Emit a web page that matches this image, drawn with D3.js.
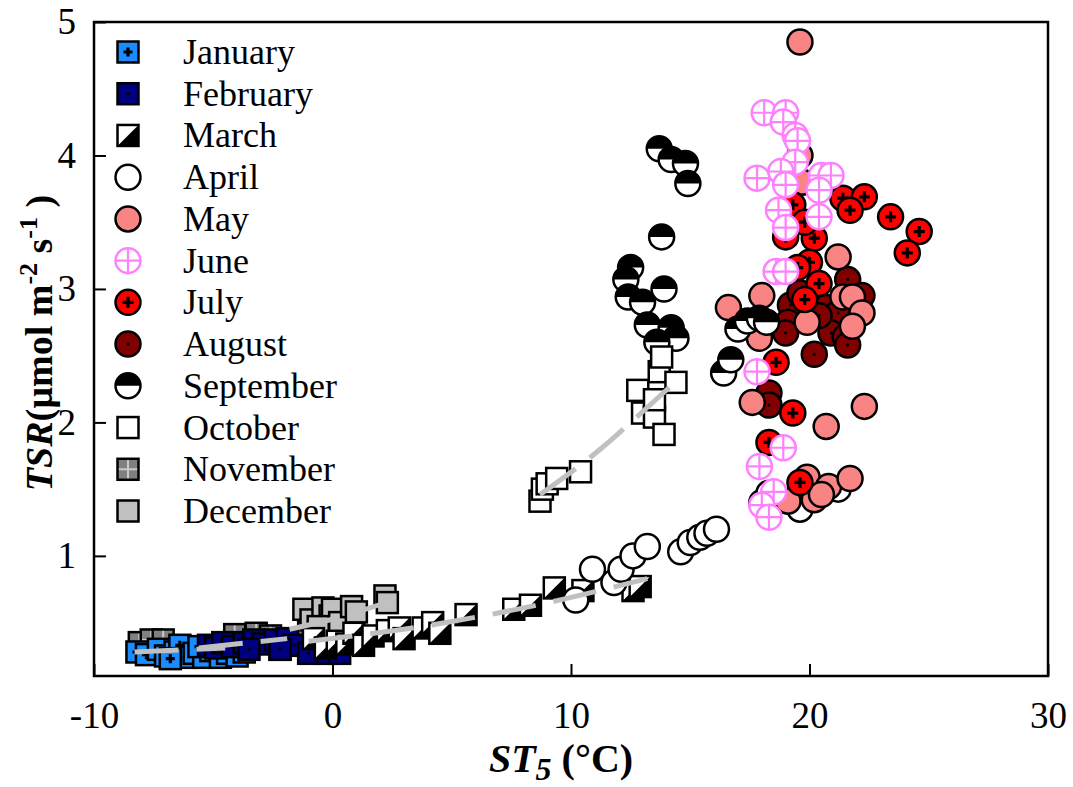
<!DOCTYPE html>
<html>
<head>
<meta charset="utf-8">
<script src="https://cdn.jsdelivr.net/npm/d3@7"></script>
<style>
  body { margin: 0; background: #fff; }
  text { font-family: "Liberation Serif", "Times New Roman", serif; }
</style>
</head>
<body>
<svg id="chart" width="1073" height="787"></svg>
<script>
// [ST5, TSR] pairs, one array per month
var january = [[-8.2,0.28],[-7.8,0.26],[-7.3,0.3],[-7.0,0.25],[-6.6,0.28],[-6.4,0.33],[-6.1,0.24],[-5.8,0.27],
    [-5.4,0.24],[-5.1,0.29],[-4.7,0.24],[-4.4,0.27],[-4.0,0.25],[-3.7,0.28],[-6.8,0.23],[-5.6,0.32]];
var february = [[-5.2,0.33],[-4.9,0.31],[-4.6,0.35],[-4.2,0.32],[-3.7,0.35],[-3.3,0.37],[-2.9,0.34],
    [-2.4,0.37],[-1.9,0.38],[-1.6,0.33],[-2.2,0.3],[-1.0,0.27],[-0.2,0.27],[0.3,0.27],[-3.5,0.3]];
var march = [[-0.8,0.38],[-0.3,0.31],[0.2,0.36],[0.6,0.34],[0.9,0.42],[1.3,0.33],[1.7,0.4],[2.3,0.44],[2.8,0.46],
    [3.0,0.38],[3.8,0.46],[4.2,0.5],[4.5,0.42],[5.6,0.56],[7.6,0.6],[8.3,0.63],[9.3,0.76],[10.5,0.74],[12.6,0.74],[12.9,0.77]];
var april = [[10.2,0.67],[10.9,0.9],[11.8,0.8],[12.1,0.9],[12.6,1.0],[13.2,1.07],[14.6,1.03],[15.0,1.1],[15.4,1.14],
    [15.7,1.17],[16.1,1.2],[18.0,1.4],[18.3,1.47],[19.6,1.35],[20.2,1.45],[21.2,1.5]];
var may = [[19.6,4.85],[19.6,4.0],[19.7,3.8],[21.2,3.24],[16.6,2.86],[18.0,2.95],[17.9,2.63],[19.9,2.75],[21.4,2.94],
    [21.8,2.94],[22.2,2.82],[21.8,2.72],[17.6,2.15],[20.7,1.97],[22.3,2.12],[19.9,1.59],[20.8,1.52],[21.7,1.58],
    [20.2,1.42],[19.1,1.41],[20.5,1.46]];
var june = [[18.1,4.32],[19.0,4.32],[18.9,4.25],[19.4,4.15],[19.5,4.11],[19.4,3.95],[17.8,3.83],[18.8,3.88],[19.0,3.78],
    [20.5,3.85],[20.9,3.85],[20.4,3.74],[18.7,3.59],[19.0,3.46],[20.4,3.54],[18.6,3.13],[19.0,3.13],[17.8,2.38],
    [18.9,1.81],[17.9,1.67],[18.5,1.48],[18.0,1.38],[18.3,1.29]];
var july = [[19.3,3.63],[21.4,3.68],[22.3,3.69],[21.7,3.59],[23.4,3.54],[24.6,3.43],[24.1,3.27],[20.2,3.38],[19.0,3.39],
    [19.8,3.5],[20.0,3.2],[19.5,3.16],[20.4,3.04],[19.8,2.92],[18.6,2.45],[19.3,2.07],[18.3,1.85],[19.6,1.55]];
var august = [[19.2,2.88],[19.1,2.75],[19.0,2.67],[20.7,2.86],[21.2,2.82],[20.9,2.67],[21.5,2.64],[21.6,2.58],
    [21.6,3.07],[22.2,2.95],[20.2,2.51],[18.3,2.22],[18.3,2.13],[19.6,2.97],[20.4,2.8]];
var september = [[13.7,4.05],[14.2,3.97],[14.8,3.94],[14.9,3.79],[13.8,3.39],[12.5,3.16],[12.3,3.07],[13.9,3.0],
    [12.4,2.94],[13.0,2.9],[13.2,2.73],[14.2,2.71],[14.4,2.63],[13.6,2.6],[16.4,2.37],[16.7,2.47],[17.0,2.7],
    [17.4,2.76],[17.9,2.78],[18.2,2.75]];
var october = [[8.7,1.41],[8.8,1.5],[9.0,1.54],[9.4,1.58],[10.4,1.63],[12.8,2.24],[13.0,2.07],[13.5,2.04],[13.5,2.17],
    [13.7,2.38],[13.8,2.49],[14.4,2.3],[13.9,1.91]];
var november = [[-8.1,0.35],[-7.6,0.37],[-7.1,0.37],[-4.1,0.41],[-3.2,0.42],[-2.6,0.4],[-2.2,0.3],[-1.0,0.44],[-0.6,0.5]];
var december = [[-1.2,0.6],[-0.9,0.52],[-0.4,0.61],[-0.1,0.55],[0.0,0.6],[0.3,0.5],[0.8,0.62],[1.0,0.58],[2.2,0.7],
    [2.3,0.65],[-0.6,0.47]];

// fitted curves
var janFit = [[-8.3,0.28],[-4.5,0.31]];
var febFit = [[-5.6,0.31],[-1.9,0.38]];
var decFit = [[-1.8,0.45],[0.5,0.55],[2.4,0.66]];
var marFit = [[-1.0,0.36],[4.4,0.49],[8.8,0.64],[13.2,0.83]];
var octFit = [[8.7,1.46],[11.3,1.81],[13.0,2.08],[14.6,2.34]];

var monthNames = ["January","February","March","April","May","June","July","August","September","October","November","December"];
var xTicks = [-10, 0, 10, 20, 30];
var yTicks = [1, 2, 3, 4, 5];

var monthData = {
    January: january, February: february, March: march, April: april, May: may, June: june,
    July: july, August: august, September: september, October: october, November: november, December: december
};
var fits = [janFit, febFit, decFit, marFit, octFit];

// marker look per month
var markerStyle = {
    January:   {shape: "square", fill: "#1a8cff", inner: "plus"},
    February:  {shape: "square", fill: "#00007f", inner: "dot"},
    March:     {shape: "square", fill: "#fff", inner: "half"},
    April:     {shape: "circle", fill: "#fff"},
    May:       {shape: "circle", fill: "#f88484"},
    June:      {shape: "circle", fill: "#fff", stroke: "#ff80ff", inner: "cross"},
    July:      {shape: "circle", fill: "#ff0000", inner: "plus"},
    August:    {shape: "circle", fill: "#800000", inner: "dot"},
    September: {shape: "circle", fill: "#fff", inner: "top"},
    October:   {shape: "square", fill: "#fff"},
    November:  {shape: "square", fill: "#808080", inner: "grid"},
    December:  {shape: "square", fill: "#c0c0c0"}
};
var drawOrder = ["November","December","January","February","March","April","August","May","July","June","September","October"];

var margin = {top: 22, right: 25, bottom: 111, left: 94};
var width = 1073 - margin.left - margin.right;
var height = 787 - margin.top - margin.bottom;

var scaleX = d3.scaleLinear().domain([-10, 30]).range([0, width]);
var scaleY = d3.scaleLinear().domain([0.1, 5]).range([height, 0]);

var svg = d3.select("#chart");
var chart = svg.append("g")
    .attr("transform", "translate(" + margin.left + "," + margin.top + ")");

var S = 21, R = 12.5;

function addMarker(g, st) {
    var stroke = st.stroke || "#000";
    if (st.shape == "square") {
        g.append("rect").attr("x", -S/2).attr("y", -S/2).attr("width", S).attr("height", S)
            .attr("fill", st.fill);
        if (st.inner == "half") {
            g.append("path").attr("d", "M" + (S/2) + "," + (-S/2) + "L" + (S/2) + "," + (S/2) + "L" + (-S/2) + "," + (S/2) + "Z")
                .attr("fill", "#000");
        }
        if (st.inner == "grid") {
            g.append("path").attr("d", "M0," + (-S/2) + "V" + (S/2) + "M" + (-S/2) + ",0H" + (S/2))
                .attr("stroke", "#c8c8c8").attr("stroke-width", 2);
        }
        g.append("rect").attr("x", -S/2).attr("y", -S/2).attr("width", S).attr("height", S)
            .attr("fill", "none").attr("stroke", stroke).attr("stroke-width", 2.5);
    } else {
        g.append("circle").attr("r", R).attr("fill", st.fill);
        if (st.inner == "top") {
            g.append("path").attr("d", "M" + (-R) + ",0A" + R + "," + R + " 0 0 1 " + R + ",0Z").attr("fill", "#000");
        }
        if (st.inner == "cross") {
            g.append("path").attr("d", "M0," + (-R) + "V" + R + "M" + (-R) + ",0H" + R)
                .attr("stroke", stroke).attr("stroke-width", 2.2);
        }
        g.append("circle").attr("r", R).attr("fill", "none").attr("stroke", stroke).attr("stroke-width", 2.5);
    }
    if (st.inner == "plus") {
        var a = st.shape == "square" ? 4.5 : 5.5;
        g.append("path").attr("d", "M0," + (-a) + "V" + a + "M" + (-a) + ",0H" + a)
            .attr("stroke", "#000").attr("stroke-width", 3.2);
    }
    if (st.inner == "dot") {
        g.append("circle").attr("r", 1.6).attr("fill", "#000");
    }
}

// points
drawOrder.forEach(function(m) {
    chart.append("g").attr("class", "month")
        .selectAll("g")
        .data(monthData[m])
        .enter()
        .append("g")
            .attr("transform", function(d) { return "translate(" + scaleX(d[0]) + "," + scaleY(d[1]) + ")" })
            .each(function() { addMarker(d3.select(this), markerStyle[m]) });
});

// grey dashed fit lines
var line = d3.line()
    .x(function(d) { return scaleX(d[0]) })
    .y(function(d) { return scaleY(d[1]) })
    .curve(d3.curveMonotoneX);

chart.selectAll(".fit")
    .data(fits)
    .enter()
    .append("path")
        .attr("class", "fit")
        .attr("d", line)
        .attr("fill", "none")
        .attr("stroke", "#c0c0c0")
        .attr("stroke-width", 5)
        .attr("stroke-dasharray", "44,18");

// axes, ticks pointing inward; plain hyphen for negatives
var xAxis = d3.axisBottom(scaleX).tickValues(xTicks).tickSize(-12).tickPadding(26).tickFormat(function(d) { return String(d) });
var yAxis = d3.axisLeft(scaleY).tickValues(yTicks).tickSize(-12).tickPadding(18).tickFormat(function(d) { return String(d) });

chart.append("g")
    .attr("class", "x axis")
    .attr("transform", "translate(0," + height + ")")
    .call(xAxis);
chart.append("g")
    .attr("class", "y axis")
    .call(yAxis);

chart.selectAll(".axis .domain").remove();
chart.selectAll(".axis line").attr("stroke", "#000").attr("stroke-width", 2);
chart.selectAll(".axis text")
    .attr("fill", "#000")
    .style("font-family", "Liberation Serif")
    .style("font-size", "37px");

// frame
chart.append("rect")
    .attr("width", width)
    .attr("height", height)
    .attr("fill", "none")
    .attr("stroke", "#000")
    .attr("stroke-width", 2.5);

// axis titles
var xt = svg.append("text")
    .attr("x", margin.left + width / 2 - 10)
    .attr("y", 772)
    .attr("text-anchor", "middle")
    .style("font-size", "40px")
    .style("font-weight", "bold");
xt.append("tspan").style("font-style", "italic").text("ST");
xt.append("tspan").style("font-style", "italic").style("font-size", "32px").attr("dy", 8).text("5");
xt.append("tspan").attr("dy", -8).text(" (\u00b0C)");

var yt = svg.append("text")
    .attr("transform", "translate(52," + (margin.top + height / 2 - 6) + ") rotate(-90)")
    .attr("text-anchor", "middle")
    .style("font-size", "38px")
    .style("font-weight", "bold");
yt.append("tspan").style("font-style", "italic").text("TSR");
yt.append("tspan").text("(\u00b5mol m");
yt.append("tspan").style("font-size", "26px").attr("dy", -15).text("-2");
yt.append("tspan").attr("dy", 15).text(" s");
yt.append("tspan").style("font-size", "26px").attr("dy", -15).text("-1");
yt.append("tspan").attr("dy", 15).text(" )");

// legend
var legendY = d3.scalePoint().domain(monthNames).range([52, 511]);

var legend = svg.append("g").attr("class", "legend")
    .selectAll("g")
    .data(monthNames)
    .enter()
    .append("g")
        .attr("transform", function(d) { return "translate(0," + legendY(d) + ")" });

legend.append("g")
    .attr("transform", "translate(128,0)")
    .each(function(d) { addMarker(d3.select(this), markerStyle[d]) });

legend.append("text")
    .attr("x", 183)
    .attr("y", 12)
    .style("font-size", "36px")
    .text(function(d) { return d });
</script>
</body>
</html>
